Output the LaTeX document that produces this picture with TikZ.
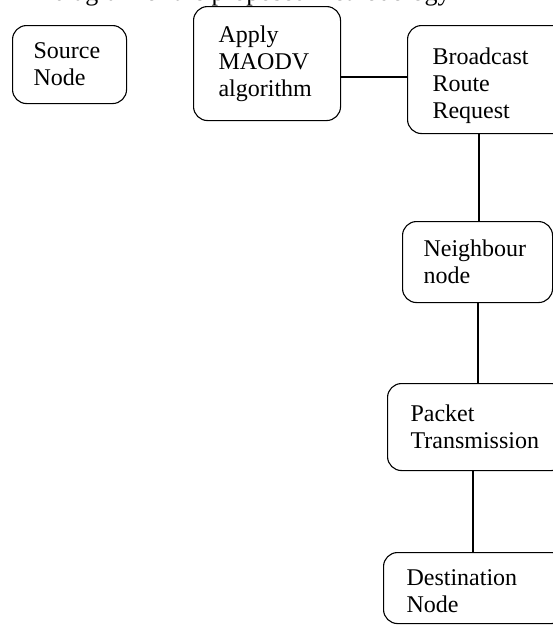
\documentclass[tikz,border=0pt]{standalone}
\usepackage{fontspec}
\setmainfont{Liberation Serif}
\begin{document}
\begin{tikzpicture}[x=1pt,y=-1pt,line width=1.1pt,
  txt/.style={font=\fontsize{24}{27}\selectfont},
  blk/.style={draw,txt,rounded corners=14pt,anchor=north west,align=left,inner xsep=#1,inner ysep=0pt}]
\useasboundingbox (0,0) rectangle (553,625);
\clip (0,0) rectangle (553,625);
\node[font=\fontsize{26}{29}\selectfont,anchor=base west,inner sep=0pt] (title) at (53,0) {diagram of the proposed methodology};
\node[blk=21pt,text width=72pt,minimum height=78pt] (src) at (12,25) {Source\\Node};
\node[blk=25pt,text width=97pt,minimum height=114pt] (apply) at (193,6) {Apply\\MAODV\\algorithm};
\node[blk=25pt,text width=113pt,minimum height=108pt] (bcast) at (407,25) {\rule{0pt}{29pt}Broadcast\\Route\\Request};
\node[blk=21pt,text width=108pt,minimum height=81pt] (neigh) at (402,221) {Neighbour\\node};
\node[blk=23pt,text width=132pt,minimum height=87pt] (pkt) at (387,383) {Packet\\Transmission};
\node[blk=23pt,text width=136pt,minimum height=71pt] (dest) at (383,552) {\rule{0pt}{22pt}Destination\\Node};
\draw (bcast.west |- 0,77) -- (apply.east |- 0,77);
\draw ([xshift=72pt]bcast.south west) -- ([xshift=72pt]bcast.south west |- neigh.north);
\draw ([xshift=76pt]neigh.south west) -- ([xshift=76pt]neigh.south west |- pkt.north);
\draw ([xshift=86pt]pkt.south west) -- ([xshift=86pt]pkt.south west |- dest.north);
\end{tikzpicture}
\end{document}
